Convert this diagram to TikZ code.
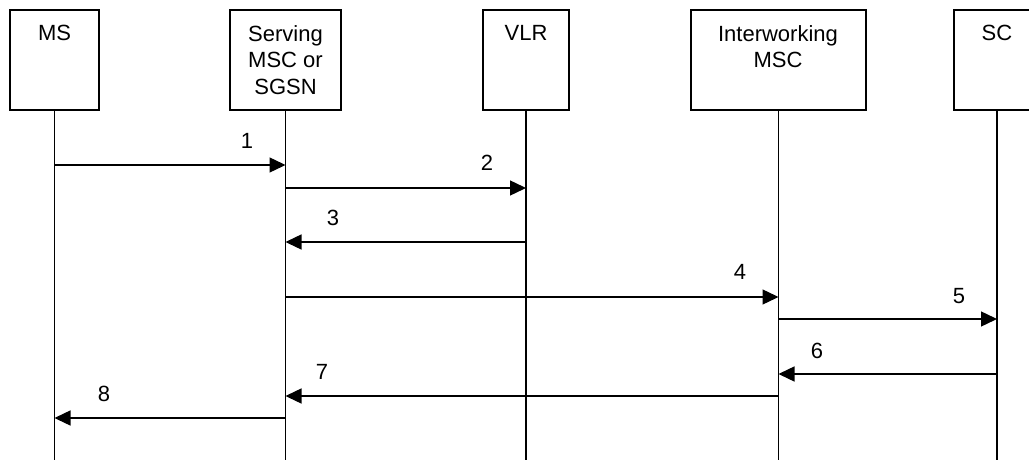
\documentclass[tikz,border=0pt]{standalone}
\usepackage{fontspec}
\setmainfont{Liberation Sans}
\usetikzlibrary{arrows.meta}
\begin{document}
\begin{tikzpicture}[x=1pt,y=-1pt,
  box/.style={draw, line width=1.4pt, inner sep=0pt, minimum height=100pt},
  ename/.style={anchor=north, inner sep=0pt, align=center, font=\fontsize{22}{26.5}\selectfont},
  life/.style={line width=1.4pt},
  msg/.style={line width=1.4pt, -{Triangle[length=16pt,width=15pt]}},
  num/.style={inner sep=0pt, font=\fontsize{22}{24}\selectfont}]
\useasboundingbox (0,0) rectangle (1029,460);
\clip (0,0) rectangle (1029,460);
% entity boxes
\node[box, minimum width=89pt]  (msB) at (54.5,60) {};
\node[box, minimum width=111pt] (svB) at (285.5,60) {};
\node[box, minimum width=86pt]  (vlB) at (526,60) {};
\node[box, minimum width=175pt] (iwB) at (778.5,60) {};
\node[box, minimum width=86pt]  (scB) at (997,60) {};
% entity names
\node[ename] (msT) at (54.5,25.3) {MS};
\node[ename] (svT) at (285.5,25.3) {Serving\\MSC or\\SGSN};
\node[ename] (vlT) at (526,25.3) {VLR};
\node[ename] (iwT) at (778,25.3) {Interworking\\MSC};
\node[ename] (scT) at (997,25.3) {SC};
% lifeline ends
\coordinate (msE) at (msB.south |- 0,460);
\coordinate (svE) at (svB.south |- 0,460);
\coordinate (vlE) at (vlB.south |- 0,460);
\coordinate (iwE) at (iwB.south |- 0,460);
\coordinate (scE) at (scB.south |- 0,460);
\draw[life] (msB.south) -- (msE);
\draw[life] (svB.south) -- (svE);
\draw[life] (vlB.south) -- (vlE);
\draw[life] (iwB.south) -- (iwE);
\draw[life] (scB.south) -- (scE);
% message rows
\coordinate (y1) at (0,165);
\coordinate (y2) at (0,188);
\coordinate (y3) at (0,242);
\coordinate (y4) at (0,297);
\coordinate (y5) at (0,319);
\coordinate (y6) at (0,374);
\coordinate (y7) at (0,396);
\coordinate (y8) at (0,418);
% messages
\draw[msg] (msB.south |- y1) -- (svB.south |- y1);
\draw[msg] (svB.south |- y2) -- (vlB.south |- y2);
\draw[msg] (vlB.south |- y3) -- (svB.south |- y3);
\draw[msg] (svB.south |- y4) -- (iwB.south |- y4);
\draw[msg] (iwB.south |- y5) -- (scB.south |- y5);
\draw[msg] (scB.south |- y6) -- (iwB.south |- y6);
\draw[msg] (iwB.south |- y7) -- (svB.south |- y7);
\draw[msg] (svB.south |- y8) -- (msB.south |- y8);
% message labels
\node[num] (n1) at (247,141) {1};
\node[num] (n2) at (487,163) {2};
\node[num] (n3) at (333,218) {3};
\node[num] (n4) at (740,272) {4};
\node[num] (n5) at (959,296) {5};
\node[num] (n6) at (817,351) {6};
\node[num] (n7) at (322,372) {7};
\node[num] (n8) at (104,394) {8};
\end{tikzpicture}
\end{document}
